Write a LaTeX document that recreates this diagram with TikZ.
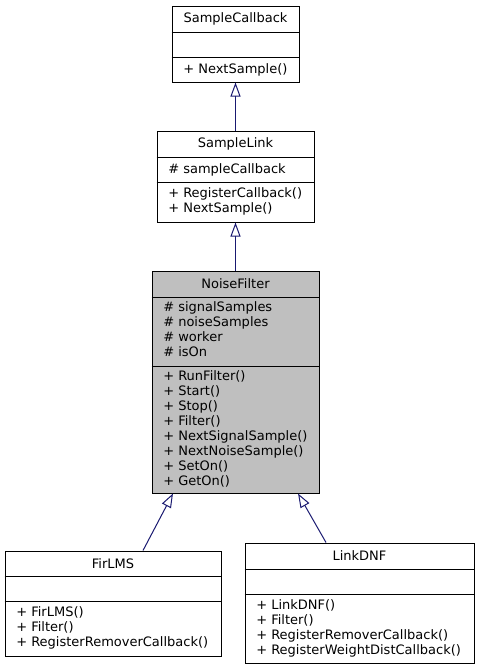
\documentclass[tikz,border=0pt]{standalone}
\usepackage{fontspec}
\setmainfont{DejaVu Sans}
\usetikzlibrary{arrows.meta,fit}
\definecolor{edgeblue}{HTML}{191970}
\definecolor{nfgray}{HTML}{BFBFBF}
\begin{document}
\begin{tikzpicture}[x=0.75pt,y=-0.75pt,
  classbox/.style={draw=black,line width=0.75pt,inner sep=0pt},
  divline/.style={draw=black,line width=0.75pt},
  title/.style={inner sep=0pt,font=\fontsize{9.75}{11.25}\selectfont},
  members/.style={inner sep=0pt,anchor=west,align=left,font=\fontsize{9.75}{11.25}\selectfont},
  inherit/.style={draw=edgeblue,line width=0.75pt,-{Triangle[open,length=10.5pt,width=7.5pt]}}]
\useasboundingbox (0,0) rectangle (480,669);

% SampleCallback
\node[classbox,fit={(172,6)(299,82)}] (sc) {};
\draw[divline] (sc.west |- 0,32) -- (sc.east |- 0,32);
\draw[divline] (sc.west |- 0,57) -- (sc.east |- 0,57);
\node[title] (sct) at (235.5,19) {SampleCallback};
\node[members] (scm) at (183,69.5) {+ NextSample()};

% SampleLink
\node[classbox,fit={(157,131)(314,222)}] (sl) {};
\draw[divline] (sl.west |- 0,157) -- (sl.east |- 0,157);
\draw[divline] (sl.west |- 0,182) -- (sl.east |- 0,182);
\node[title] (slt) at (235.5,144) {SampleLink};
\node[members] (sla) at (168,169.5) {\# sampleCallback};
\node[members] (slm) at (168,201.5) {+ RegisterCallback()\\+ NextSample()};

% NoiseFilter
\node[classbox,fill=nfgray,fit={(152,271)(319,493)}] (nf) {};
\draw[divline] (nf.west |- 0,297) -- (nf.east |- 0,297);
\draw[divline] (nf.west |- 0,366) -- (nf.east |- 0,366);
\node[title] (nft) at (235.5,284) {NoiseFilter};
\node[members] (nfa) at (163,329.5) {\# signalSamples\\\# noiseSamples\\\# worker\\\# isOn};
\node[members] (nfm) at (163,429) {+ RunFilter()\\+ Start()\\+ Stop()\\+ Filter()\\+ NextSignalSample()\\+ NextNoiseSample()\\+ SetOn()\\+ GetOn()};

% FirLMS
\node[classbox,fit={(5,551)(221,656)}] (fir) {};
\draw[divline] (fir.west |- 0,576) -- (fir.east |- 0,576);
\draw[divline] (fir.west |- 0,601) -- (fir.east |- 0,601);
\node[title] (firt) at (113,563.5) {FirLMS};
\node[members] (firm) at (16,628) {+ FirLMS()\\+ Filter()\\+ RegisterRemoverCallback()};

% LinkDNF
\node[classbox,fit={(245,543)(474,663)}] (dnf) {};
\draw[divline] (dnf.west |- 0,569) -- (dnf.east |- 0,569);
\draw[divline] (dnf.west |- 0,594) -- (dnf.east |- 0,594);
\node[title] (dnft) at (359.5,556) {LinkDNF};
\node[members] (dnfm) at (256,628.5) {+ LinkDNF()\\+ Filter()\\+ RegisterRemoverCallback()\\+ RegisterWeightDistCallback()};

% inheritance
\draw[inherit] (sl.north) -- (sc.south);
\draw[inherit] (nf.north) -- (sl.south);
\draw[inherit] ([xshift=22.5pt]fir.north) -- ([xshift=-46.9pt]nf.south);
\draw[inherit] ([xshift=-25.1pt]dnf.north) -- ([xshift=46.9pt]nf.south);
\end{tikzpicture}
\end{document}
